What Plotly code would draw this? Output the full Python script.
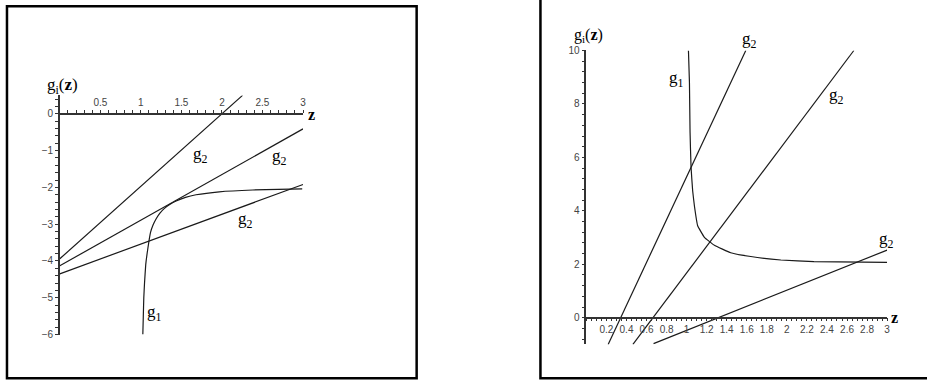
import plotly.graph_objects as go

W, H = 927, 388

# ---- left panel data: g1 curve and three tangent/secant lines g2 ----
left_g1_z = [1.024, 1.030, 1.036, 1.045, 1.060, 1.086, 1.119, 1.150, 1.189, 1.235, 1.291, 1.360, 1.435, 1.55, 1.68, 1.967, 2.38, 2.99]
left_g1_y = [-6.0, -5.5, -5.0, -4.6, -4.1, -3.66, -3.22, -3.02, -2.85, -2.70, -2.57, -2.46, -2.37, -2.27, -2.20, -2.12, -2.07, -2.04]
left_g2a_z = [0.0, 2.254]
left_g2a_y = [-3.94, 0.5]
left_g2b_z = [0.0, 3.0]
left_g2b_y = [-4.13, -0.41]
left_g2c_z = [0.0, 3.0]
left_g2c_y = [-4.35, -1.92]
left_xticks = [0.5, 1, 1.5, 2, 2.5, 3]
left_yticks = [0, -1, -2, -3, -4, -5, -6]

# ---- right panel data ----
right_g1_z = [1.018, 1.028, 1.034, 1.044, 1.060, 1.078, 1.11, 1.177, 1.277, 1.44, 1.64, 1.94, 2.27, 3.0]
right_g1_y = [10.0, 8.79, 6.96, 5.63, 4.75, 4.17, 3.44, 3.01, 2.71, 2.43, 2.29, 2.16, 2.10, 2.07]
right_g2a_z = [0.217, 1.59]
right_g2a_y = [-1.0, 10.0]
right_g2b_z = [0.464, 2.668]
right_g2b_y = [-1.0, 10.0]
right_g2c_z = [0.67, 3.0]
right_g2c_y = [-0.97, 2.53]
right_xticks = [0.2, 0.4, 0.6, 0.8, 1, 1.2, 1.4, 1.6, 1.8, 2, 2.2, 2.4, 2.6, 2.8, 3]
right_yticks = [0, 2, 4, 6, 8, 10]


def px(x):
    return x / W


def py(y):
    return 1 - y / H


LINE = dict(color="#1a1a1a", width=1.2)
fig = go.Figure()

for zs, ys in [(left_g1_z, left_g1_y), (left_g2a_z, left_g2a_y),
               (left_g2b_z, left_g2b_y), (left_g2c_z, left_g2c_y)]:
    fig.add_trace(go.Scatter(x=zs, y=ys, mode="lines", line=dict(LINE, shape="spline", smoothing=0.3),
                             xaxis="x", yaxis="y", showlegend=False, hoverinfo="skip"))

for zs, ys in [(right_g1_z, right_g1_y), (right_g2a_z, right_g2a_y),
               (right_g2b_z, right_g2b_y), (right_g2c_z, right_g2c_y)]:
    fig.add_trace(go.Scatter(x=zs, y=ys, mode="lines", line=dict(LINE, shape="spline", smoothing=0.3),
                             xaxis="x2", yaxis="y2", showlegend=False, hoverinfo="skip"))

TICKFONT = dict(family="Liberation Sans, Arial, sans-serif", size=10, color="#444")
AXLINE = dict(showline=True, linecolor="#333", linewidth=1.5, showgrid=False, zeroline=False,
              ticks="outside", ticklen=3, tickcolor="#333", tickwidth=1, tickfont=TICKFONT)

fig.update_layout(
    width=W, height=H, margin=dict(l=0, r=0, t=0, b=0),
    paper_bgcolor="white", plot_bgcolor="white",
    xaxis=dict(AXLINE, domain=[px(60), px(304)], range=[0, 3], anchor="free",
               position=py(111.7), side="top", tickmode="array", tickvals=left_xticks,
               minor=dict(tickmode="linear", tick0=0, dtick=0.1, ticks="outside", ticklen=3,
                          tickcolor="#333")),
    yaxis=dict(AXLINE, domain=[py(338.3), py(92.8)], range=[-6, 0.5], anchor="x",
               tickmode="array", tickvals=left_yticks,
               minor=dict(tickmode="linear", tick0=0, dtick=0.2, ticks="outside", ticklen=3,
                          tickcolor="#333")),
    xaxis2=dict(AXLINE, domain=[px(588.3), px(890)], range=[0, 3], anchor="free",
                position=py(321), side="bottom", tickmode="array", tickvals=right_xticks,
                minor=dict(tickmode="linear", tick0=0, dtick=0.05, ticks="outside", ticklen=3,
                           tickcolor="#333")),
    yaxis2=dict(AXLINE, domain=[py(348.4), py(46.7)], range=[-1, 10], anchor="x2",
                tickmode="array", tickvals=right_yticks,
                minor=dict(tickmode="linear", tick0=0, dtick=0.4, ticks="outside", ticklen=3,
                           tickcolor="#333")),
)

# panel frames
fig.add_shape(type="rect", xref="paper", yref="paper", x0=px(7), x1=px(418), y0=py(383), y1=py(1.3),
              line=dict(color="black", width=2.5), layer="above")
fig.add_shape(type="rect", xref="paper", yref="paper", x0=px(542.2), x1=1.05, y0=py(383), y1=1.05,
              line=dict(color="black", width=2.5), layer="above")

SERIF = "Liberation Serif, Times New Roman, serif"


def label(text, x, y, xref, yref, size=17, xanchor="center"):
    fig.add_annotation(text=text, x=x, y=y, xref=xref, yref=yref, showarrow=False,
                       xanchor=xanchor, yanchor="middle",
                       font=dict(family=SERIF, size=size, color="black"))


# axis titles sit outside the plotting ranges, so they are placed on the page
label("g<sub>i</sub>(<b>z</b>)", px(63), py(83), "paper", "paper", 17)
label("<b>z</b>", px(313), py(112.5), "paper", "paper", 16)
label("g<sub>i</sub>(<b>z</b>)", px(590), py(31), "paper", "paper", 16)
label("<b>z</b>", px(897), py(320.5), "paper", "paper", 16)
label("g<sub>2</sub>", px(752), py(36), "paper", "paper")

# left panel curve labels
label("g<sub>2</sub>", 1.74, -1.12, "x", "y")
label("g<sub>2</sub>", 2.71, -1.17, "x", "y")
label("g<sub>2</sub>", 2.29, -2.89, "x", "y")
label("g<sub>1</sub>", 1.17, -5.41, "x", "y")

# right panel curve labels
label("g<sub>1</sub>", 0.90, 8.93, "x2", "y2")
label("g<sub>2</sub>", 2.495, 8.3, "x2", "y2")
label("g<sub>2</sub>", 2.99, 2.89, "x2", "y2")

fig.write_html("out.html")
